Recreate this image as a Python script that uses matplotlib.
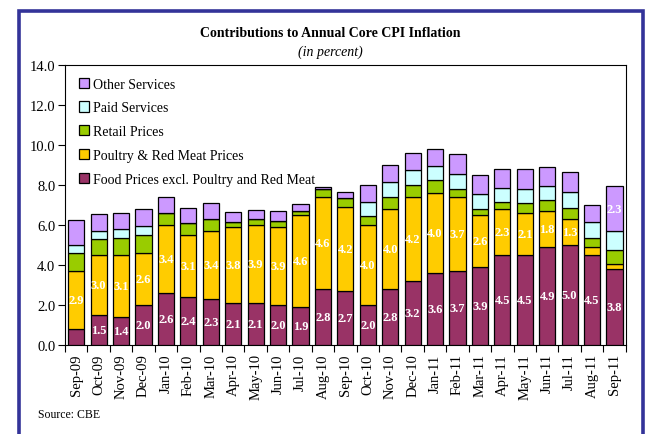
import matplotlib
matplotlib.use("Agg")
import matplotlib.pyplot as plt
import matplotlib.patches as mpatches
from matplotlib.ticker import FixedLocator, FormatStrFormatter
import numpy as np

months = ["Sep-09", "Oct-09", "Nov-09", "Dec-09", "Jan-10", "Feb-10", "Mar-10", "Apr-10",
          "May-10", "Jun-10", "Jul-10", "Aug-10", "Sep-10", "Oct-10", "Nov-10", "Dec-10",
          "Jan-11", "Feb-11", "Mar-11", "Apr-11", "May-11", "Jun-11", "Jul-11", "Aug-11", "Sep-11"]

food = [0.8, 1.5, 1.4, 2.0, 2.6, 2.4, 2.3, 2.1, 2.1, 2.0, 1.9, 2.8, 2.7, 2.0, 2.8, 3.2,
        3.6, 3.7, 3.9, 4.5, 4.5, 4.9, 5.0, 4.5, 3.8]
poultry = [2.9, 3.0, 3.1, 2.6, 3.4, 3.1, 3.4, 3.8, 3.9, 3.9, 4.6, 4.6, 4.2, 4.0, 4.0, 4.2,
           4.0, 3.7, 2.6, 2.3, 2.1, 1.8, 1.3, 0.4, 0.27]
retail = [0.9, 0.78, 0.83, 0.88, 0.6, 0.6, 0.6, 0.27, 0.28, 0.28, 0.2, 0.42, 0.45, 0.45, 0.6, 0.62,
          0.63, 0.41, 0.32, 0.33, 0.48, 0.53, 0.53, 0.47, 0.68]
paid = [0.4, 0.43, 0.45, 0.47, 0.0, 0.0, 0.0, 0.0, 0.0, 0.0, 0.0, 0.0, 0.0, 0.72, 0.75, 0.75,
        0.72, 0.74, 0.75, 0.72, 0.73, 0.7, 0.83, 0.77, 0.93]
other = [1.25, 0.84, 0.83, 0.85, 0.8, 0.75, 0.8, 0.5, 0.45, 0.5, 0.37, 0.08, 0.28, 0.85, 0.83, 0.83,
         0.85, 1.01, 0.93, 0.95, 0.98, 0.98, 0.98, 0.88, 2.28]

series = [
    ("Food Prices excl. Poultry and Red Meat", food, "#993366", 1.0),
    ("Poultry & Red Meat Prices", poultry, "#FFCC00", 1.0),
    ("Retail Prices", retail, "#99CC00", None),
    ("Paid Services", paid, "#CCFFFF", None),
    ("Other Services", other, "#CC99FF", 2.0),
]

plt.rcParams['font.family'] = ['Liberation Serif', 'DejaVu Serif']

fig = plt.figure(figsize=(6.48, 4.35), dpi=100)
ax = fig.add_axes([0.1003, 0.2046, 0.8653, 0.6437])

x = np.arange(len(months))
bottom = np.zeros(len(months))
handles = []
for name, vals, color, thr in series:
    v = np.array(vals, dtype=float)
    bars = ax.bar(x, v, width=0.72, bottom=bottom, color=color, edgecolor="black",
                  linewidth=0.9, label=name, zorder=3)
    if thr is not None:
        for xi, b, val in zip(x, bottom, v):
            if val >= thr:
                ax.text(xi, b + val / 2, f"{val:.1f}", ha="center", va="center",
                        color="white", fontsize=9, fontweight="bold", zorder=4)
    bottom = bottom + v
    handles.append(bars)

ax.set_xlim(-0.5, len(months) - 0.5)
ax.set_ylim(0, 14)
ax.yaxis.set_major_locator(FixedLocator(np.arange(0, 14.1, 2.0)))
ax.yaxis.set_major_formatter(FormatStrFormatter("%.1f"))
ax.set_xticks(x)
ax.set_xticklabels(months, rotation=90, fontsize=10.5)
ax.tick_params(axis="x", which="major", length=0, pad=6)
ax.set_xticks(np.arange(-0.5, len(months), 1.0), minor=True)
ax.tick_params(axis="x", which="minor", length=5, direction="out", width=0.8)
ax.tick_params(axis="y", length=5, direction="out", width=0.8, labelsize=10.5, pad=2)
for s in ax.spines.values():
    s.set_linewidth(0.8)

leg = ax.legend(handles[::-1], [s[0] for s in series][::-1], loc="upper left",
                bbox_to_anchor=(0.025, 0.955), frameon=False, fontsize=10,
                handlelength=0.75, handleheight=0.75, handletextpad=0.25,
                labelspacing=0.78, borderpad=0, borderaxespad=0)

fig.text(0.51, 0.922, "Contributions to Annual Core CPI Inflation", ha="center", va="center",
         fontsize=10, fontweight="bold")
fig.text(0.51, 0.880, "(in percent)", ha="center", va="center", fontsize=10, style="italic")
fig.text(0.058, 0.047, "Source: CBE", ha="left", va="center", fontsize=8.5)

frame = mpatches.Rectangle((0.029, -0.05), 0.963, 1.023, transform=fig.transFigure,
                           fill=False, edgecolor="#333399", linewidth=2.6, clip_on=False)
fig.patches.append(frame)

fig.savefig("out.png", dpi=100)
